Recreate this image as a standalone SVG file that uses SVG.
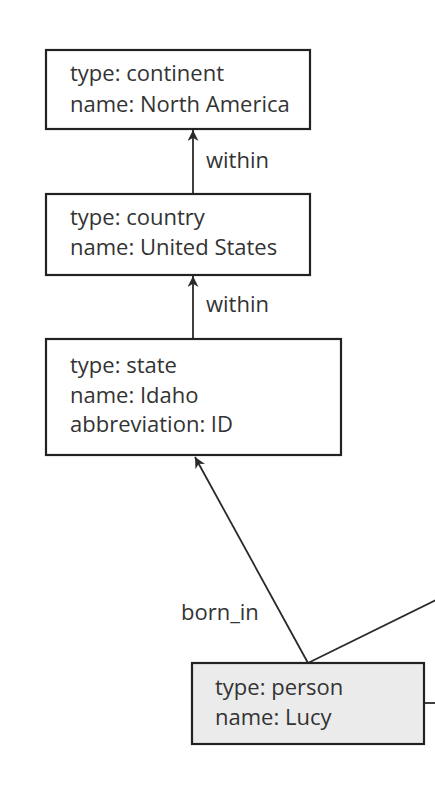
<svg xmlns="http://www.w3.org/2000/svg" width="435" height="796" viewBox="0 0 435 796">
<style>
.box{fill:#fff;stroke:#222;stroke-width:2.2}
.person{fill:#ebebeb;stroke:#222;stroke-width:2.2}
.t{font-family:"Open Sans","Liberation Sans",sans-serif;font-size:22px;fill:#333}
.edge{stroke:#2a2a2a;stroke-width:1.8;fill:none}
</style>
<defs>
<marker id="ah" viewBox="0 0 10 10" refX="10" refY="5" markerWidth="11" markerHeight="11" markerUnits="userSpaceOnUse" orient="auto">
<path d="M0,0 L10,5 L0,10 L3,5 Z" fill="#2a2a2a"/>
</marker>
</defs>
<rect width="435" height="796" fill="#fff"/>
<g id="connectors">
<line class="edge" x1="193" y1="193" x2="193" y2="130" marker-end="url(#ah)"/>
<line class="edge" x1="193" y1="339" x2="193" y2="276" marker-end="url(#ah)"/>
<line class="edge" x1="308" y1="663" x2="195" y2="457" marker-end="url(#ah)"/>
<line class="edge" x1="308" y1="663" x2="440" y2="598"/>
<line class="edge" x1="424" y1="703" x2="435" y2="703"/>
<text class="t" x="206" y="168">within</text>
<text class="t" x="206" y="312">within</text>
<text class="t" x="181" y="620">born_in</text>
</g>
<g id="continent">
<rect class="box" x="46" y="50" width="264" height="79"/>
<text class="t" x="70" y="81">type: continent</text>
<text class="t" x="70" y="112">name: North America</text>
</g>
<g id="country">
<rect class="box" x="46" y="194" width="264" height="81"/>
<text class="t" x="70" y="225">type: country</text>
<text class="t" x="70" y="255">name: United States</text>
</g>
<g id="state">
<rect class="box" x="46" y="339" width="295" height="116"/>
<text class="t" x="70" y="373">type: state</text>
<text class="t" x="70" y="403">name: Idaho</text>
<text class="t" x="70" y="432">abbreviation: ID</text>
</g>
<g id="person">
<rect class="person" x="192" y="663" width="232" height="81"/>
<text class="t" x="215" y="695">type: person</text>
<text class="t" x="215" y="725">name: Lucy</text>
</g>
</svg>
